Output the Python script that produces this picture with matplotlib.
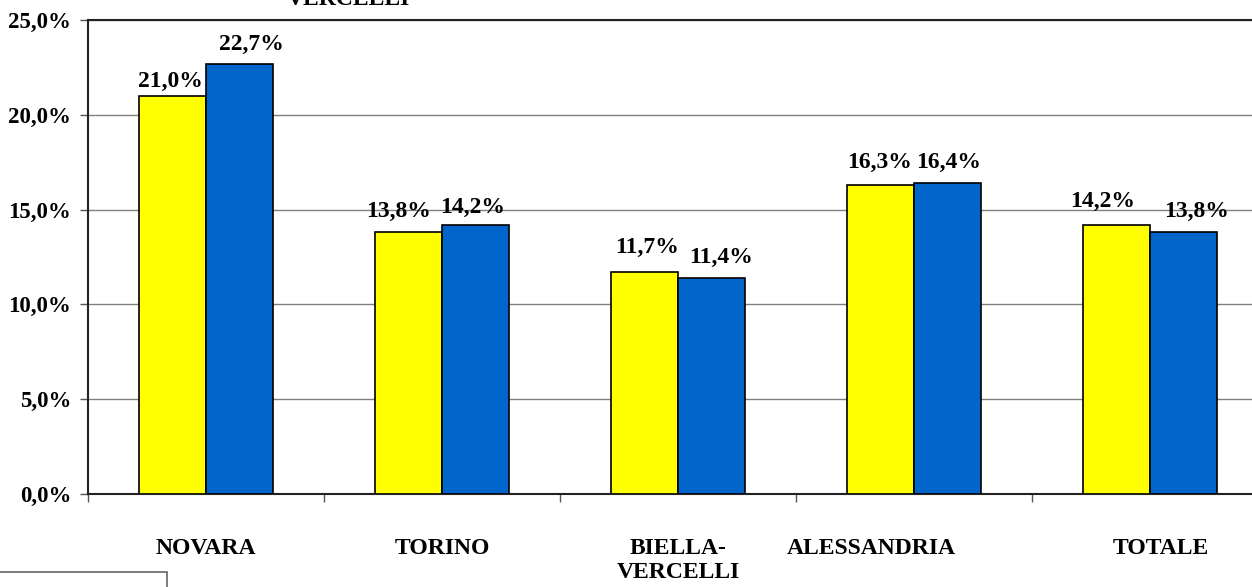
import matplotlib
matplotlib.use("Agg")
import matplotlib.pyplot as plt
from matplotlib.patches import Rectangle
from matplotlib.transforms import blended_transform_factory, offset_copy
import numpy as np

# ---- data ----
categories = ["NOVARA", "TORINO", "BIELLA-\nVERCELLI", "ALESSANDRIA", "TOTALE"]
series_a = [21.0, 13.8, 11.7, 16.3, 14.2]   # yellow
series_b = [22.7, 14.2, 11.4, 16.4, 13.8]   # blue
yticks = [0, 5, 10, 15, 20, 25]

# ---- layout / style ----
W, H, DPI = 1252, 587, 100
FONT = "Liberation Serif"
col_a = "#FFFF00"
col_b = "#0066CC"
bar_w = 0.286
label_dx = [0, 0, 0, -31, 8]        # category label offsets (points)
# data-label nudges in pixels (dx, dy above bar top)
nudge_a = [(-2, 9), (-10, 15), (3, 19), (-1, 17), (-14, 18)]
nudge_b = [(12, 14), (-3, 12), (9, 15), (1, 15), (13, 15)]

fig = plt.figure(figsize=(W / DPI, H / DPI), dpi=DPI)
ax = fig.add_axes([88 / W, 93 / H, 1180 / W, 474 / H])

x = np.arange(len(categories))
bars_a = ax.bar(x - bar_w / 2, series_a, bar_w, color=col_a, edgecolor="black", linewidth=1.2, zorder=3)
bars_b = ax.bar(x + bar_w / 2, series_b, bar_w, color=col_b, edgecolor="black", linewidth=1.2, zorder=3)

ax.set_xlim(-0.5, len(categories) - 0.5)
ax.set_ylim(0, 25)

# y axis
ax.set_yticks(yticks)
ax.set_yticklabels([f"{v:.1f}%".replace(".", ",") for v in yticks],
                   fontfamily=FONT, fontweight="bold", fontsize=16.5)
ax.tick_params(axis="y", length=6, width=1, color="#555555", pad=6)
ax.yaxis.grid(True, color="#808080", linewidth=1, zorder=0)

# x axis: ticks at boundaries, labels as text
ax.set_xticks(np.arange(-0.5, len(categories) + 0.5, 1.0))
ax.set_xticklabels([])
ax.tick_params(axis="x", length=6, width=1, color="#555555")

ax.spines["right"].set_visible(False)
for s in ["left", "bottom", "top"]:
    ax.spines[s].set_color("#222222")
    ax.spines[s].set_linewidth(1.5)

trans = blended_transform_factory(ax.transData, ax.transAxes)
for i, c in enumerate(categories):
    t = offset_copy(trans, fig=fig, x=label_dx[i], y=-31.5, units="points")
    ax.text(i, 0, c, transform=t, ha="center", va="top", fontfamily=FONT,
            fontweight="bold", fontsize=17, linespacing=1.2, clip_on=False)

# data labels
def fmt(v):
    return f"{v:.1f}%".replace(".", ",")

px2pt = 72 / DPI
for bars, vals, nud in ((bars_a, series_a, nudge_a), (bars_b, series_b, nudge_b)):
    for b, v, (dx, dy) in zip(bars, vals, nud):
        ax.annotate(fmt(v), (b.get_x() + b.get_width() / 2, v),
                    xytext=(dx * px2pt, dy * px2pt),
                    textcoords="offset points", ha="center", va="baseline",
                    fontfamily=FONT, fontweight="bold", fontsize=17, zorder=5)

# clipped title fragment at top
fig.text(287 / W, 1 - 5 / H, "VERCELLI", ha="left", va="baseline",
         fontfamily=FONT, fontweight="bold", fontsize=17)

# clipped legend frame at bottom-left
fig.patches.append(Rectangle((-0.01, -0.05), 167 / W + 0.01, (587 - 572) / H + 0.05,
                             transform=fig.transFigure, fill=False,
                             edgecolor="#666666", linewidth=1.2))

fig.savefig("out.png", dpi=DPI)
